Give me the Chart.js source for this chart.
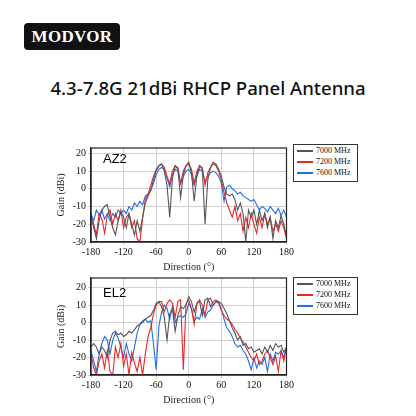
<!DOCTYPE html>
<html><head><meta charset="utf-8">
<script src="https://cdn.jsdelivr.net/npm/chart.js@4/dist/chart.umd.min.js"></script>
<style>
body{margin:0;width:416px;height:416px;background:#fff;position:relative;overflow:hidden;font-family:"Liberation Serif",serif}
.abs{position:absolute}
#logo{left:24px;top:23px;width:96px;height:27px;background:#111;border-radius:4px;color:#fff;font:bold 17px "Liberation Serif";text-align:center;line-height:28px;letter-spacing:0.3px}
#title{left:0;width:416px;top:75px;text-align:center;font:500 18.6px "Noto Sans",sans-serif;color:#111}
.lab{font:13px "Liberation Sans",sans-serif;color:#000}
.leg{border:1px solid #333;width:63px;height:36px;background:#fff}
.leg div{position:relative;height:11px;font:8px "Liberation Serif";line-height:11px;padding-left:22px;color:#111}
.leg span{position:absolute;left:3px;top:5px;width:16px;height:1.5px}
</style></head><body>
<div id="logo" class="abs">MODVOR</div>
<div id="title" class="abs">4.3-7.8G 21dBi RHCP Panel Antenna</div>
<div class="abs" style="left:55px;top:140px;width:240px;height:133px"><canvas id="c1"></canvas></div>
<div class="abs" style="left:55px;top:270px;width:240px;height:136px"><canvas id="c2"></canvas></div>
<div class="abs lab" style="left:103px;top:151px">AZ2</div>
<div class="abs lab" style="left:103px;top:285px">EL2</div>
<div class="abs leg" style="left:293px;top:144px"><div><span style="background:#555"></span>7000 MHz</div><div><span style="background:#e8262a"></span>7200 MHz</div><div><span style="background:#1f6fe8"></span>7600 MHz</div></div>
<div class="abs leg" style="left:293px;top:277px"><div><span style="background:#555"></span>7000 MHz</div><div><span style="background:#e8262a"></span>7200 MHz</div><div><span style="background:#1f6fe8"></span>7600 MHz</div></div>
<script>
const seriesNames=["7000 MHz","7200 MHz","7600 MHz"];
const xTicks=[-180,-120,-60,0,60,120,180];
const yTicks=[-30,-20,-10,0,10,20];
const az7000=[-15,-22,-28,-18,-12,-10,-9,-16,-22,-26,-18,-13,-16,-22,-14,-20,-26,-18,-24,-16,-8,-4,-1,5,10,13,14,10,2,-16,6,13,11,-5,8,13,15,9,-7,8,13,11,-20,5,12,15,14,11,7,1,-3,-4,-3,-6,-12,-8,-14,-30,-12,-16,-12,-20,-12,-18,-14,-22,-16,-28,-18,-22,-15,-20,-27];
const az7200=[-16,-20,-26,-14,-17,-25,-15,-12,-20,-14,-18,-12,-22,-16,-14,-22,-18,-28,-30,-17,-6,-3,2,7,11,13,14,12,7,3,10,13,12,3,10,13,14,11,3,10,13,12,2,9,12,14,13,10,5,-2,-8,-12,-16,-10,-18,-14,-24,-16,-22,-14,-20,-25,-16,-22,-14,-20,-16,-24,-20,-24,-18,-22,-28];
const az7600=[-14,-18,-12,-15,-12,-17,-14,-18,-14,-16,-12,-14,-12,-14,-10,-12,-8,-10,-7,-9,-4,-3,-1,3,8,11,12,11,6,1,8,11,10,3,7,10,11,8,2,7,11,10,4,7,9,10,9,7,3,-7,1,2,0,-1,-3,-2,-4,-5,-6,-7,-6,-9,-12,-10,-11,-13,-10,-12,-14,-11,-15,-12,-16];
const el7000=[-14,-12,-14,-18,-14,-16,-20,-10,-6,-5,-7,-6,-8,-7,-5,-6,-4,-2,-1,0,2,3,4,7,11,12,9,3,-10,5,8,-5,4,9,8,10,15,12,6,11,12,4,13,14,9,12,13,12,11,8,5,1,-3,-6,-10,-8,-13,-12,-15,-14,-17,-16,-15,-18,-14,-17,-13,-16,-12,-14,-13,-17,-14];
const el7200=[-18,-26,-30,-22,-18,-26,-16,-28,-30,-14,-20,-12,-25,-18,-30,-17,-23,-28,-20,-30,-18,-8,-3,5,10,12,12,6,11,13,11,3,12,13,-27,11,13,8,-1,11,13,10,4,13,14,10,12,11,7,4,2,1,-1,-4,-6,-9,-11,-14,-17,-20,-22,-18,-24,-22,-18,-16,-20,-24,-19,-28,-16,-22,-14];
const el7600=[-16,-22,-28,-18,-12,-8,-10,-18,-10,-6,-9,-14,-20,-12,-18,-22,-14,-6,-1,1,2,0,1,-12,-27,-2,6,10,8,2,9,0,3,4,3,5,11,8,1,3,2,8,3,6,7,10,12,12,8,2,-3,-5,-8,-12,-14,-13,-16,-18,-22,-27,-20,-26,-22,-24,-20,-28,-18,-22,-17,-18,-16,-20,-14];
const angles=az7000.map((_,i)=>-180+5*i);
const colors=["#555555","#e8262a","#1f6fe8"];
function make(id,sets,ymax){
  new Chart(document.getElementById(id),{type:'line',
    data:{datasets:sets.map((s,k)=>({label:seriesNames[k],data:s.map((v,i)=>({x:angles[i],y:v})),borderColor:colors[k],borderWidth:1.1,pointRadius:0,tension:0}))},
    options:{responsive:true,maintainAspectRatio:false,animation:false,
      layout:{padding:{top:4,right:5,left:0,bottom:0}},
      plugins:{legend:{display:false},tooltip:{enabled:false}},
      scales:{
        x:{type:'linear',min:-180,max:180,afterBuildTicks:a=>{a.ticks=xTicks.map(v=>({value:v}))},
          ticks:{font:{family:'Liberation Serif',size:10},color:'#111',padding:1,maxRotation:0},
          grid:{color:'#d0d0d0',tickLength:3,borderDash:[1,2]},border:{color:'#222',width:1.2},
          title:{display:true,text:'Direction (°)',font:{family:'Liberation Serif',size:10},color:'#222',padding:0},
          afterFit:a=>{a.height=31}},
        y:{min:-30,max:ymax,afterBuildTicks:a=>{a.ticks=yTicks.map(v=>({value:v}))},
          ticks:{font:{family:'Liberation Serif',size:10},color:'#111',padding:2},
          grid:{color:'#d0d0d0',tickLength:3,borderDash:[1,2]},border:{color:'#222',width:1.2},
          title:{display:true,text:'Gain (dBi)',font:{family:'Liberation Serif',size:10},color:'#222',padding:0},
          afterFit:a=>{a.width=36}}
      }},
    plugins:[{id:'box',afterDraw(c){const a=c.chartArea,x=c.ctx;x.save();x.strokeStyle='#222';x.lineWidth=1.2;x.strokeRect(a.left,a.top,a.right-a.left,a.bottom-a.top);x.restore();}}]
  });
}
make('c1',[az7000,az7200,az7600],23);
make('c2',[el7000,el7200,el7600],25.5);
</script></body></html>
